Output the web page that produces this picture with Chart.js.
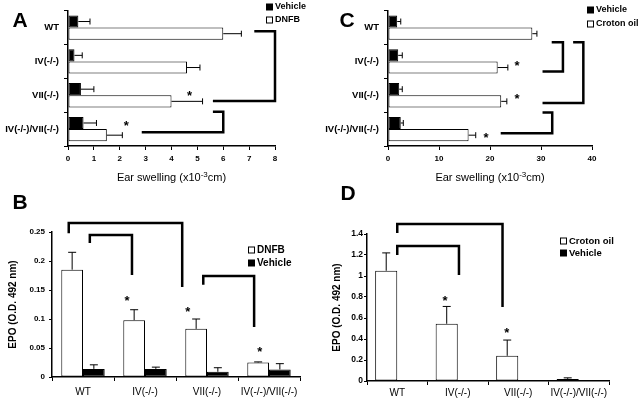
<!DOCTYPE html>
<html><head><meta charset="utf-8">
<script src="https://cdn.jsdelivr.net/npm/chart.js@4/dist/chart.umd.min.js"></script>
<style>
html,body{margin:0;padding:0;background:#fff;width:640px;height:404px;overflow:hidden;}
.p{position:absolute;}
canvas{display:block;}
</style></head><body>
<div class="p" style="left:0;top:0"><canvas id="cA" width="320" height="185"></canvas></div>
<div class="p" style="left:320px;top:0"><canvas id="cC" width="320" height="185"></canvas></div>
<div class="p" style="left:0;top:185px"><canvas id="cB" width="320" height="219"></canvas></div>
<div class="p" style="left:320px;top:185px"><canvas id="cD" width="320" height="219"></canvas></div>
<script>
// ---------- data ----------
const categories = ['WT', 'IV(-/-)', 'VII(-/-)', 'IV(-/-)/VII(-/-)'];

// Panel A: DNFB ear swelling (x10^-3 cm)
const aVehicle    = [0.4, 0.25, 0.5, 0.6];
const aVehicleErr = [0.45, 0.3, 0.5, 0.5];
const aDNFB       = [6.0, 4.6, 4.0, 1.5];
const aDNFBErr    = [0.7, 0.5, 1.2, 0.6];
const aTicks      = [0, 1, 2, 3, 4, 5, 6, 7, 8];
const aBrackets   = [[[0.11, 7.2], [0.11, 8.0], [2.17, 8.0], [2.17, 5.6]],
                     [[2.49, 5.6], [2.49, 6.0], [3.09, 6.0], [3.09, 2.85]]];
const aStars      = [[1.96, 4.7], [2.83, 2.25]];

// Panel C: croton oil ear swelling (x10^-3 cm)
const cVehicle    = [1.8, 2.0, 2.2, 2.5];
const cVehicleErr = [0.7, 0.8, 0.6, 0.5];
const cCroton     = [28.3, 21.5, 22.2, 15.8];
const cCrotonErr  = [0.9, 2.0, 1.1, 1.4];
const cTicks      = [0, 10, 20, 30, 40];
const cBrackets   = [[[0.43, 32.1], [0.43, 34.3], [1.30, 34.3], [1.30, 30.3]],
                     [[0.43, 36.3], [0.43, 38.3], [2.23, 38.3], [2.23, 30.3]],
                     [[2.51, 30.3], [2.51, 32.2], [3.12, 32.2], [3.12, 22.1]]];
const cStars      = [[1.07, 25.3], [2.02, 25.3], [3.18, 19.2]];

// Panel B: EPO, DNFB (O.D. 492 nm)
const bDNFB       = [0.185, 0.098, 0.083, 0.025];
const bDNFBErr    = [0.030, 0.018, 0.017, 0.001];
const bVehicle    = [0.014, 0.014, 0.009, 0.013];
const bVehicleErr = [0.007, 0.003, 0.007, 0.010];
const bTicks      = [0, 0.05, 0.1, 0.15, 0.2, 0.25];
const bBrackets   = [[[-0.23, 0.248], [-0.23, 0.2655], [1.6, 0.2655], [1.6, 0.155]],
                     [[0.11, 0.231], [0.11, 0.245], [0.79, 0.245], [0.79, 0.176]],
                     [[1.94, 0.159], [1.94, 0.174], [2.76, 0.174], [2.76, 0.086]]];
const bStars      = [[0.71, 0.136], [1.69, 0.117], [2.85, 0.047]];

// Panel D: EPO, croton oil (O.D. 492 nm)
const dCroton     = [1.05, 0.545, 0.24, 0.02];
const dCrotonErr  = [0.17, 0.165, 0.15, 0.01];
const dVehicle    = [0.005, 0.005, 0.004, 0.003];
const dVehicleErr = [0, 0, 0, 0];
const dTicks      = [0, 0.2, 0.4, 0.6, 0.8, 1, 1.2, 1.4];
const dBrackets   = [[[0, 1.41], [0, 1.495], [1.74, 1.495], [1.74, 0.705]],
                     [[0, 1.2], [0, 1.286], [1.02, 1.286], [1.02, 1.01]]];
const dStars      = [[0.79, 0.79], [1.81, 0.486]];

// ---------- drawing helpers ----------
const FONT = '"Liberation Sans", Arial, Helvetica, sans-serif';

const deco = {
  id: 'deco',
  afterDatasetsDraw(chart, args, o) {
    const ctx = chart.ctx, horiz = chart.options.indexAxis === 'y';
    const vs = horiz ? chart.scales.x : chart.scales.y;
    const cs = horiz ? chart.scales.y : chart.scales.x;
    const pt = (c, v) => horiz ? [vs.getPixelForValue(v), cs.getPixelForValue(c)]
                               : [cs.getPixelForValue(c), vs.getPixelForValue(v)];
    ctx.save();
    ctx.strokeStyle = '#000'; ctx.fillStyle = '#000'; ctx.lineWidth = 1;
    chart.data.datasets.forEach((ds, i) => {
      const meta = chart.getDatasetMeta(i);
      meta.data.forEach((el, j) => {
        const e = ds.errors ? ds.errors[j] : 0;
        if (!e) return;
        const end = vs.getPixelForValue(ds.data[j] + e);
        ctx.beginPath();
        if (horiz) {
          ctx.moveTo(el.x, el.y); ctx.lineTo(end, el.y);
          ctx.moveTo(end, el.y - o.cap); ctx.lineTo(end, el.y + o.cap);
        } else {
          ctx.moveTo(el.x, el.y); ctx.lineTo(el.x, end);
          ctx.moveTo(el.x - o.cap, end); ctx.lineTo(el.x + o.cap, end);
        }
        ctx.stroke();
      });
    });
    ctx.lineWidth = o.bracketWidth; ctx.lineJoin = 'miter'; ctx.lineCap = 'butt';
    (o.brackets || []).forEach(b => {
      ctx.beginPath();
      b.forEach((p, k) => { const [x, y] = pt(p[0], p[1]); k ? ctx.lineTo(x, y) : ctx.moveTo(x, y); });
      ctx.stroke();
    });
    ctx.font = 'bold 13px ' + FONT; ctx.textAlign = 'center'; ctx.textBaseline = 'middle';
    (o.stars || []).forEach(s => { const [x, y] = pt(s[0], s[1]); ctx.fillText('*', x, y + 3); });
    ctx.restore();
  },
  afterDraw(chart, args, o) {
    const ctx = chart.ctx, a = chart.chartArea;
    ctx.save();
    ctx.fillStyle = '#000'; ctx.strokeStyle = '#000'; ctx.lineWidth = 1;
    // legend
    ctx.textBaseline = 'middle'; ctx.textAlign = 'left';
    ctx.font = 'bold ' + o.legendSize + 'px ' + FONT;
    (o.legend || []).forEach(it => {
      if (it.filled) ctx.fillRect(it.x, it.y - 3.5, 7, 7);
      else ctx.strokeRect(it.x + 0.5, it.y - 3, 6, 6);
      ctx.fillText(it.text, it.x + 9, it.y);
    });
    // panel letter
    if (o.letter) {
      ctx.font = 'bold 21px ' + FONT; ctx.textAlign = 'center';
      ctx.fillText(o.letter.text, o.letter.x, o.letter.y);
    }
    // x title with superscript
    if (o.xTitle) {
      const parts = [['Ear swelling (x10', 11, 0], ['-3', 8, -4], ['cm)', 11, 0]];
      let w = 0;
      parts.forEach(p => { ctx.font = p[1] + 'px ' + FONT; w += ctx.measureText(p[0]).width; });
      let x = (a.left + a.right) / 2 - w / 2;
      ctx.textAlign = 'left'; ctx.textBaseline = 'alphabetic';
      parts.forEach(p => {
        ctx.font = p[1] + 'px ' + FONT;
        ctx.fillText(p[0], x, o.xTitle.y + p[2]);
        x += ctx.measureText(p[0]).width;
      });
    }
    // y title rotated
    if (o.yTitle) {
      ctx.translate(o.yTitle.x, (a.top + a.bottom) / 2);
      ctx.rotate(-Math.PI / 2);
      ctx.font = 'bold 10px ' + FONT; ctx.textAlign = 'center'; ctx.textBaseline = 'middle';
      ctx.fillText(o.yTitle.text, 0, 0);
    }
    ctx.restore();
  }
};

function makeChart(id, p) {
  const cv = document.getElementById(id);
  const W = cv.width, H = cv.height;
  const horiz = p.horiz;
  const catAxis = {
    type: 'category',
    offset: true,
    border: { display: true, color: '#000', width: 1.5 },
    grid: { display: true, drawOnChartArea: false, color: '#000', tickLength: 4, offset: true },
    ticks: { color: '#000', autoSkip: false, maxRotation: 0, minRotation: 0,
             padding: p.catPad, font: { family: FONT, size: horiz ? 9.5 : 10, weight: horiz ? 'bold' : 'normal' } }
  };
  const valAxis = {
    type: 'linear',
    min: p.ticks[0], max: p.ticks[p.ticks.length - 1],
    border: { display: true, color: '#000', width: 1.5 },
    grid: { display: true, drawOnChartArea: false, color: '#000', tickLength: horiz ? 4 : 3 },
    ticks: { color: '#000', padding: p.valPad, font: { family: FONT, size: p.valFont, weight: 'bold' },
             callback: v => String(+(+v).toFixed(4)) },
    afterBuildTicks: s => { s.ticks = p.ticks.map(v => ({ value: v })); }
  };
  const xAxis = horiz ? valAxis : catAxis;
  const yAxis = horiz ? catAxis : valAxis;
  xAxis.afterFit = s => { s.height = H - p.area.bottom; };
  yAxis.afterFit = s => { s.width = p.area.left; };
  return new Chart(cv, {
    type: 'bar',
    data: {
      labels: categories,
      datasets: p.series.map(s => ({
        label: s.label, data: s.data, errors: s.err,
        backgroundColor: s.filled ? '#000' : '#fff',
        borderColor: '#000', borderWidth: 1, borderSkipped: false,
        barPercentage: 1, categoryPercentage: p.catPct
      }))
    },
    options: {
      indexAxis: horiz ? 'y' : 'x',
      responsive: false, animation: false, events: [],
      layout: { padding: { left: 0, top: p.area.top, right: W - p.area.right, bottom: 0 } },
      scales: { x: xAxis, y: yAxis },
      plugins: {
        legend: { display: false }, tooltip: { enabled: false },
        deco: p.deco
      }
    },
    plugins: [deco]
  });
}

makeChart('cA', {
  horiz: true, ticks: aTicks, catPct: 0.72, catPad: 5, valPad: 4, valFont: 8,
  area: { left: 68, right: 275, top: 8, bottom: 146 },
  series: [{ label: 'Vehicle', data: aVehicle, err: aVehicleErr, filled: true },
           { label: 'DNFB', data: aDNFB, err: aDNFBErr, filled: false }],
  deco: { cap: 3, bracketWidth: 2.5, brackets: aBrackets, stars: aStars, legendSize: 9,
          legend: [{ x: 266, y: 7, filled: true, text: 'Vehicle' }, { x: 266, y: 20, filled: false, text: 'DNFB' }],
          letter: { text: 'A', x: 20, y: 21 }, xTitle: { y: 181 } }
});

makeChart('cC', {
  horiz: true, ticks: cTicks, catPct: 0.72, catPad: 5, valPad: 4, valFont: 8,
  area: { left: 68, right: 272, top: 8, bottom: 146 },
  series: [{ label: 'Vehicle', data: cVehicle, err: cVehicleErr, filled: true },
           { label: 'Croton oil', data: cCroton, err: cCrotonErr, filled: false }],
  deco: { cap: 3, bracketWidth: 2.5, brackets: cBrackets, stars: cStars, legendSize: 9,
          legend: [{ x: 267, y: 10, filled: true, text: 'Vehicle' }, { x: 267, y: 24, filled: false, text: 'Croton oil' }],
          letter: { text: 'C', x: 27, y: 21 }, xTitle: { y: 181 } }
});

makeChart('cB', {
  horiz: false, ticks: bTicks, catPct: 0.7, catPad: 5, valPad: 4, valFont: 8,
  area: { left: 52, right: 300, top: 47, bottom: 192 },
  series: [{ label: 'DNFB', data: bDNFB, err: bDNFBErr, filled: false },
           { label: 'Vehicle', data: bVehicle, err: bVehicleErr, filled: true }],
  deco: { cap: 4, bracketWidth: 2.5, brackets: bBrackets, stars: bStars, legendSize: 10,
          legend: [{ x: 248, y: 65, filled: false, text: 'DNFB' }, { x: 248, y: 78, filled: true, text: 'Vehicle' }],
          letter: { text: 'B', x: 20, y: 18 }, yTitle: { x: 13, text: 'EPO (O.D. 492 nm)' } }
});

makeChart('cD', {
  horiz: false, ticks: dTicks, catPct: 0.73, catPad: 2, valPad: 1, valFont: 8.5,
  area: { left: 47, right: 289, top: 49, bottom: 196 },
  series: [{ label: 'Croton oil', data: dCroton, err: dCrotonErr, filled: false },
           { label: 'Vehicle', data: dVehicle, err: dVehicleErr, filled: true }],
  deco: { cap: 4, bracketWidth: 2.5, brackets: dBrackets, stars: dStars, legendSize: 9.5,
          legend: [{ x: 240, y: 56, filled: false, text: 'Croton oil' }, { x: 240, y: 68, filled: true, text: 'Vehicle' }],
          letter: { text: 'D', x: 28, y: 9 }, yTitle: { x: 17, text: 'EPO (O.D. 492 nm)' } }
});
</script>
</body></html>
